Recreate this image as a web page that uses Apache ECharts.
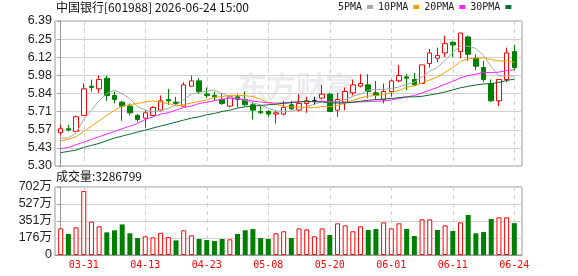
<!DOCTYPE html>
<html>
<head>
<meta charset="utf-8">
<script src="https://cdn.jsdelivr.net/npm/echarts@6/dist/echarts.min.js"></script>
<style>
  html, body { margin: 0; padding: 0; background: #fff; }
  #main { width: 578px; height: 276px; }
</style>
</head>
<body>
<div id="main"></div>
<script>
// trading days shown
var dates = ['03-26','03-27','03-30','03-31','04-01','04-02','04-03','04-07','04-08','04-09',
  '04-10','04-13','04-14','04-15','04-16','04-17','04-20','04-21','04-22','04-23',
  '04-24','04-27','04-28','04-29','04-30','05-06','05-07','05-08','05-11','05-12',
  '05-13','05-14','05-15','05-18','05-19','05-20','05-21','05-22','05-25','05-26',
  '05-27','05-28','05-29','06-01','06-02','06-03','06-04','06-05','06-08','06-09',
  '06-10','06-11','06-12','06-15','06-16','06-17','06-18','06-22','06-23','06-24'];
var labelDays = ['03-31','04-13','04-23','05-08','05-20','06-01','06-11','06-24'];

var open = [5.55,5.58,5.56,5.68,5.90,5.88,5.96,5.83,5.78,5.75, 5.68,5.66,5.68,5.72,5.80,5.78,5.75,5.90,5.94,5.84,
  5.83,5.80,5.75,5.82,5.80,5.76,5.71,5.71,5.69,5.69, 5.76,5.72,5.77,5.79,5.81,5.84,5.72,5.78,5.85,5.90,
  5.91,5.85,5.80,5.86,5.94,5.97,5.95,5.92,6.07,6.11, 6.15,6.23,6.16,6.27,6.11,6.04,5.92,5.79,5.95,6.16];
var close = [5.58,5.57,5.67,5.88,5.89,5.95,5.83,5.80,5.75,5.70, 5.65,5.70,5.74,5.79,5.79,5.77,5.91,5.94,5.86,5.83,
  5.82,5.77,5.82,5.80,5.76,5.72,5.70,5.69,5.70,5.74, 5.73,5.77,5.79,5.79,5.84,5.71,5.80,5.86,5.91,5.92,
  5.86,5.83,5.86,5.94,5.98,5.96,5.91,6.06,6.15,6.13, 6.22,6.21,6.30,6.14,6.05,5.95,5.79,5.95,6.15,6.04];
var low = [5.53,5.56,5.56,5.68,5.86,5.85,5.79,5.77,5.64,5.68, 5.63,5.59,5.68,5.71,5.76,5.76,5.75,5.90,5.84,5.81,
  5.79,5.76,5.74,5.74,5.75,5.65,5.69,5.67,5.62,5.68, 5.72,5.71,5.70,5.76,5.80,5.71,5.67,5.72,5.83,5.89,
  5.81,5.80,5.77,5.82,5.93,5.87,5.90,5.92,6.04,6.08, 6.12,6.12,6.11,6.09,6.02,5.93,5.78,5.75,5.93,6.02];
var high = [5.61,5.61,5.68,5.92,5.95,5.98,5.98,5.86,5.79,5.77, 5.69,5.72,5.75,5.83,5.88,5.82,5.93,5.98,5.96,5.89,
  5.86,5.85,5.83,5.84,5.86,5.78,5.75,5.72,5.72,5.79, 5.79,5.84,5.82,5.82,5.91,5.85,5.85,5.89,5.95,5.99,
  5.99,5.94,5.92,5.95,6.06,5.99,6.00,6.06,6.18,6.19, 6.28,6.24,6.30,6.28,6.14,6.09,5.95,5.95,6.19,6.21];

var volumes = [2750000,2170000,2860000,6600000,3440000,2960000,2340000,2550000,3160000,2240000,
  1750000,1930000,1820000,2300000,1860000,1510000,2550000,2030000,1650000,1550000,
  1440000,1650000,1620000,2170000,2550000,2680000,1750000,1650000,2240000,2450000,
  1750000,2750000,2650000,1930000,2750000,2060000,3270000,3060000,2450000,2960000,
  2580000,2680000,3370000,2750000,3270000,2680000,1960000,3680000,3680000,2580000,
  3060000,2480000,3370000,4130000,2240000,2370000,3720000,3890000,3890000,3286799];

var ma5 = [5.51,5.51,5.55,5.65,5.718,5.792,5.844,5.87,5.844,5.806, 5.746,5.72,5.708,5.716,5.734,5.758,5.80,5.84,5.854,5.862,
  5.872,5.844,5.82,5.808,5.794,5.774,5.76,5.734,5.714,5.71, 5.712,5.726,5.746,5.764,5.784,5.78,5.786,5.80,5.824,5.84,
  5.87,5.876,5.876,5.882,5.894,5.914,5.93,5.97,6.012,6.042, 6.094,6.154,6.202,6.20,6.184,6.13,6.046,5.976,5.978,5.976];
var ma10 = [5.49,5.50,5.52,5.56,5.60,5.64,5.68,5.72,5.75,5.762, 5.769,5.782,5.789,5.78,5.77,5.752,5.76,5.774,5.785,5.798,
  5.815,5.822,5.83,5.831,5.828,5.823,5.802,5.777,5.761,5.752, 5.743,5.743,5.74,5.739,5.747,5.746,5.756,5.773,5.794,5.812,
  5.825,5.831,5.838,5.853,5.867,5.892,5.903,5.923,5.947,5.968, 6.004,6.042,6.086,6.106,6.113,6.112,6.10,6.089,6.089,6.08];
var ma20 = [5.43,5.44,5.46,5.48,5.50,5.52,5.54,5.56,5.58,5.60, 5.62,5.65,5.67,5.69,5.70,5.72,5.74,5.75,5.77,5.78,
  5.792,5.802,5.81,5.806,5.799,5.788,5.781,5.776,5.773,5.775, 5.779,5.783,5.785,5.785,5.788,5.785,5.779,5.775,5.778,5.782,
  5.784,5.787,5.789,5.796,5.807,5.819,5.83,5.848,5.871,5.89, 5.915,5.937,5.962,5.98,5.99,6.002,6.002,6.006,6.018,6.024];
var ma30 = [5.40,5.41,5.42,5.44,5.455,5.47,5.49,5.51,5.525,5.54, 5.555,5.57,5.585,5.60,5.615,5.63,5.645,5.66,5.67,5.685,
  5.695,5.71,5.72,5.735,5.745,5.75,5.755,5.76,5.765,5.771, 5.776,5.782,5.786,5.783,5.782,5.774,5.773,5.775,5.78,5.787,
  5.794,5.799,5.803,5.808,5.814,5.82,5.82,5.824,5.834,5.844, 5.857,5.872,5.888,5.899,5.909,5.917,5.92,5.928,5.943,5.953];

var priceMin = 5.30, priceMax = 6.39, priceStep = 0.13625;
var priceLabels = ['5.30','5.43','5.57','5.71','5.84','5.98','6.12','6.25','6.39'];
var volMax = 7020000, volStep = 1755000;

var maNames = ['5PMA', '10PMA', '20PMA', '30PMA'];
var maColors = ['#a8a8a8', '#f5a000', '#ff22ff', '#0b6b30'];
var maData = [ma5, ma10, ma20, ma30];

var labelIdx = labelDays.map(function (d) { return dates.indexOf(d); });
var upRed = '#ff0000', downGreen = '#008000';

var chart = echarts.init(document.getElementById('main'));

var series = [
  {
    type: 'candlestick',
    xAxisIndex: 0,
    yAxisIndex: 0,
    barWidth: 5,
    encode: { x: 0, y: [1, 2, 3, 4] },
    data: dates.map(function (d, i) { return [i, open[i], close[i], low[i], high[i]]; }),
    itemStyle: {
      color: '#fff', color0: downGreen,
      borderColor: upRed, borderColor0: downGreen, borderColorDoji: '#000',
      borderWidth: 1
    }
  },
  {
    type: 'bar',
    xAxisIndex: 1,
    yAxisIndex: 1,
    barWidth: 5,
    data: volumes.map(function (v, i) {
      var up = i === 0 ? close[i] >= open[i] : close[i] >= close[i - 1];
      return {
        value: [i, v],
        itemStyle: up ? { color: '#fff', borderColor: upRed, borderWidth: 1 } : { color: downGreen }
      };
    })
  }
];
maNames.forEach(function (name, k) {
  series.push({
    name: name,
    type: 'line',
    xAxisIndex: 0,
    yAxisIndex: 0,
    symbol: 'none',
    data: maData[k].map(function (v, i) { return [i, v]; }),
    lineStyle: { width: 1, color: maColors[k] },
    itemStyle: { color: maColors[k] },
    z: 3
  });
});

var dashed = { show: true, lineStyle: { color: '#cfcfcf', type: [4, 4], width: 1 } };

chart.setOption({
  animation: false,
  title: [
    {
      text: '中国银行[601988] 2026-06-24 15:00',
      left: 56, top: 1, padding: 0,
      textStyle: { fontSize: 12, fontWeight: 'normal', color: '#111', fontFamily: 'Noto Sans CJK SC' }
    },
    {
      text: '成交量:' + volumes[volumes.length - 1],
      left: 56, top: 170, padding: 0,
      textStyle: { fontSize: 12, fontWeight: 'normal', color: '#111', fontFamily: 'Noto Sans CJK SC' }
    }
  ],
  legend: {
    data: maNames,
    left: 338, top: 2, padding: 0,
    align: 'right',
    icon: 'rect',
    itemWidth: 6, itemHeight: 4, itemGap: 5,
    textStyle: { fontSize: 10, color: '#222', fontFamily: 'DejaVu Sans Mono' }
  },
  graphic: [{
    type: 'text', left: 238, top: 72, z: -1, silent: true,
    style: { text: '东方财富', fill: '#ececf0', font: 'bold 29px "Noto Sans CJK SC"' }
  }],
  grid: [
    { left: 55, top: 21, width: 467, height: 145, show: true, borderColor: '#999', borderWidth: 1 },
    { left: 55, top: 187, width: 467, height: 68, show: true, borderColor: '#999', borderWidth: 1 }
  ],
  xAxis: [
    {
      type: 'value', gridIndex: 0, min: -0.74, max: 60,
      axisLine: { show: false },
      axisTick: { show: false, customValues: labelIdx },
      axisLabel: { show: false, customValues: labelIdx },
      splitLine: dashed
    },
    {
      type: 'value', gridIndex: 1, min: -0.74, max: 60,
      axisLine: { show: true, lineStyle: { color: '#999' } },
      axisTick: { show: false, customValues: labelIdx },
      axisLabel: {
        customValues: labelIdx,
        formatter: function (v) { return dates[Math.round(v)]; },
        color: '#ff0000', fontSize: 10, fontFamily: 'DejaVu Sans Mono', margin: 5
      },
      splitLine: dashed
    }
  ],
  yAxis: [
    {
      type: 'value', gridIndex: 0, min: priceMin, max: priceMax, interval: priceStep,
      axisLine: { show: true, lineStyle: { color: '#999' } },
      axisTick: { show: true, length: 3, lineStyle: { color: '#999' } },
      axisLabel: {
        formatter: function (v) { return priceLabels[Math.round((v - priceMin) / priceStep)]; },
        color: '#222', fontSize: 12.5, fontFamily: 'Liberation Sans', margin: 3
      },
      splitLine: { show: true, lineStyle: { color: '#d2d2d2', width: 1 } }
    },
    {
      type: 'value', gridIndex: 1, min: 0, max: volMax, interval: volStep,
      axisLine: { show: true, lineStyle: { color: '#999' } },
      axisTick: { show: true, length: 3, lineStyle: { color: '#999' } },
      axisLabel: {
        formatter: function (v) { return v === 0 ? '0' : Math.round(v / 10000) + '万'; },
        color: '#222', fontSize: 12.5, fontFamily: 'Liberation Sans, Noto Sans CJK SC', margin: 3
      },
      splitLine: { show: true, lineStyle: { color: '#d2d2d2', width: 1 } }
    }
  ],
  series: series
});
</script>
</body>
</html>
